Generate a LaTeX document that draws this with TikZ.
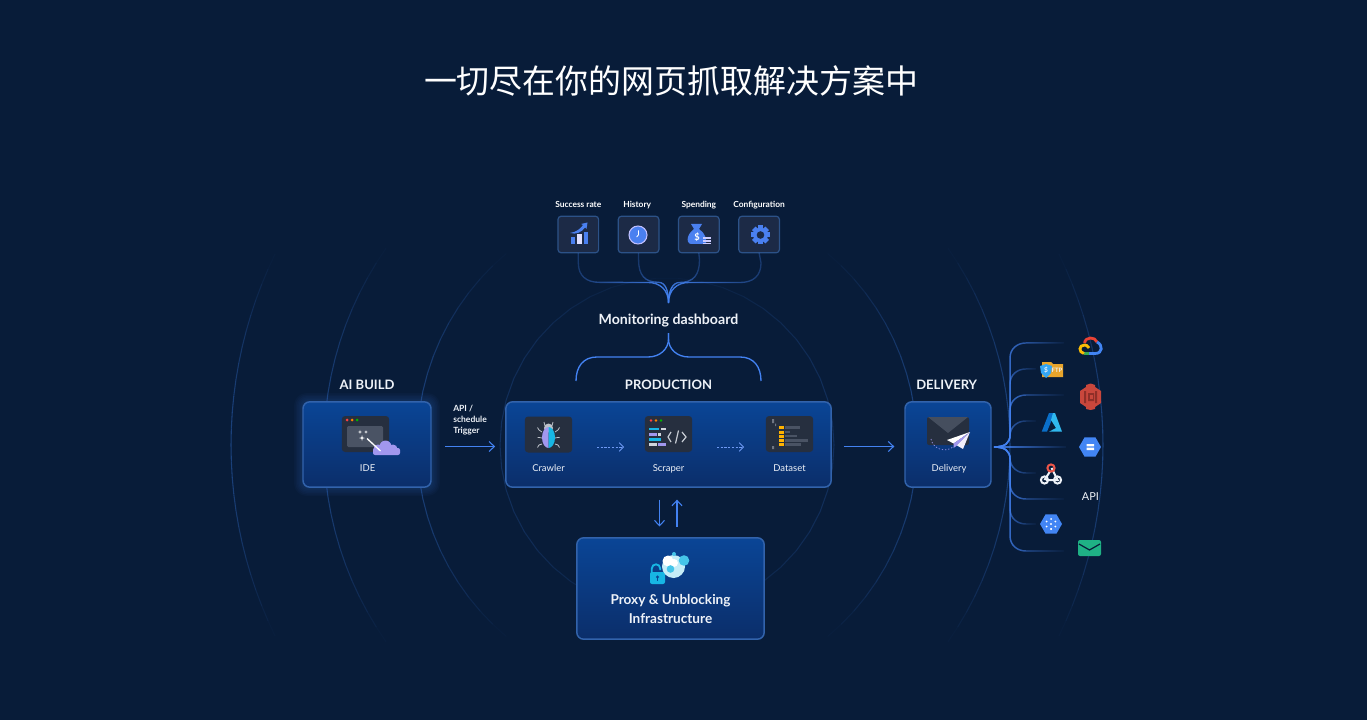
\documentclass[tikz,border=0pt]{standalone}
\usepackage{fontspec}
\setmainfont{Lato}
\newfontfamily\cjk{Noto Sans CJK SC}
\usepackage{xcolor}
\usetikzlibrary{positioning, arrows.meta, shapes.geometric, calc, fadings}

\definecolor{pagebg}{HTML}{081C39}
\definecolor{ringblue}{HTML}{235096}
\definecolor{panelhi}{HTML}{0A4596}
\definecolor{panello}{HTML}{0B2E6A}
\definecolor{panelrim}{HTML}{3263AC}
\definecolor{tilefill}{HTML}{1C2A46}
\definecolor{tilerim}{HTML}{2C5288}
\definecolor{iconfill}{HTML}{262F3F}
\definecolor{wireblue}{HTML}{4382F2}
\definecolor{softblue}{HTML}{4A80F0}
\definecolor{lavender}{HTML}{A197EE}
\definecolor{cyanicon}{HTML}{17B6E4}
\definecolor{greybar}{HTML}{4A5364}
\definecolor{paletext}{HTML}{EEF2F8}
\definecolor{gred}{HTML}{EA4335}
\definecolor{gblue}{HTML}{4285F4}
\definecolor{ggreen}{HTML}{34A853}
\definecolor{gyellow}{HTML}{FBBC05}
\definecolor{folder}{HTML}{E8A52C}
\definecolor{bucket}{HTML}{C9473C}
\definecolor{bucketdark}{HTML}{8F2F28}
\definecolor{azurea}{HTML}{0A6FC9}
\definecolor{azureb}{HTML}{30B8EE}
\definecolor{mailgreen}{HTML}{1FB185}

\tikzfading[name=fanfade, left color=transparent!0, middle color=transparent!35, right color=transparent!100]
\tikzfading[name=feedleft, left color=transparent!75, right color=transparent!0]
\tikzfading[name=feedright, left color=transparent!0, right color=transparent!75]

\begin{document}
\begin{tikzpicture}[
    x=0.75pt, y=-0.75pt,
    panel/.style={
        draw=panelrim,
        line width=1.1pt,
        rounded corners=5pt,
        top color=panelhi,
        bottom color=panello,
        outer sep=0pt,
        inner sep=0pt
    },
    tile/.style={
        draw=tilerim,
        line width=0.9pt,
        rounded corners=2.5pt,
        fill=tilefill,
        minimum width=30.5pt,
        minimum height=27.5pt,
        outer sep=0pt,
        inner sep=0pt
    },
    darktile/.style={
        fill=iconfill,
        rounded corners=2.5pt,
        minimum width=35.5pt,
        minimum height=27pt,
        outer sep=0pt,
        inner sep=0pt
    },
    hexicon/.style={
        regular polygon,
        regular polygon sides=6,
        fill=gblue,
        minimum size=16.5pt,
        inner sep=0pt
    },
    heading/.style={font=\fontsize{9.75}{12}\selectfont\bfseries, text=paletext, inner sep=0pt},
    caption/.style={font=\fontsize{7.1}{9}\selectfont, text=paletext, inner sep=0pt, text height=5.2pt, text depth=1.5pt},
    smallcap/.style={font=\fontsize{6.3}{8}\selectfont\bfseries, text=white, inner sep=0pt, text height=4.6pt, text depth=1.4pt},
    arrow/.style={-{Straight Barb[length=4pt,width=7.5pt]}, line width=0.8pt, draw=wireblue},
    dotarrow/.style={-{Straight Barb[length=3.2pt,width=6.5pt]}, line width=0.6pt, draw=softblue!80!white,
        dash pattern=on 1.6pt off 1.2pt},
    feedline/.style={line width=1pt, draw=wireblue, fading transform={scale=1.1}},
    fanline/.style={line width=1.1pt, draw=wireblue, path fading=fanfade, fading transform={scale=1.1}}
]
\useasboundingbox (0,0) rectangle (1367,720);
\fill[pagebg] (0,0) rectangle (1367,720);

% --- Rings ---
\foreach \rad/\amax/\peak in {167/94/0.38, 250/50/0.72, 343/35/0.72, 436/26/0.72}
  \foreach \side in {1,-1}
    \foreach \i in {-12,...,11} {
      \pgfmathsetmacro\angA{\amax*\i/12}
      \pgfmathsetmacro\angB{\amax*(\i+1)/12}
      \pgfmathsetmacro\fade{\peak*(1-abs((\i+0.5)/12)^1.6)}
      \draw[ringblue, line width=0.8pt, opacity=\fade]
        ({667+\side*\rad*cos(\angA)},{445+\rad*sin(\angA)}) -- ({667+\side*\rad*cos(\angB)},{445+\rad*sin(\angB)});
    }

% --- Title ---
\node[font=\cjk\fontsize{24.7}{28}\selectfont, text=white, inner sep=0pt] (title) at (671,81) {一切尽在你的网页抓取解决方案中};

% --- Monitoring tiles ---
\node[tile] (rate) at (578.3,234.5) {};
\node[tile, right=14.7pt of rate] (history) {};
\node[tile, right=14.7pt of history] (spend) {};
\node[tile, right=14.7pt of spend] (config) {};

\node[smallcap, above=5.2pt of rate] (ratelabel) {Success rate};
\node[smallcap, above=5.2pt of history, xshift=-1pt] (historylabel) {History};
\node[smallcap, above=5.2pt of spend] (spendlabel) {Spending};
\node[smallcap, above=5.2pt of config] (configlabel) {Configuration};

\node[font=\fontsize{10.6}{12}\selectfont\bfseries, text=paletext, inner sep=0pt] (monitor) at (668.5,320.5) {Monitoring dashboard};
\coordinate (feedtop) at (668.5,303);
\coordinate (feedlow) at (668.5,333);
\coordinate (prodleft) at (576,381);
\coordinate (prodright) at (761,381);

% --- Glow of the IDE panel ---
\foreach \g in {1.5,3,...,9}
  \fill[wireblue, opacity=0.035, rounded corners={4+0.6*\g}] ({303-\g},{402-\g}) rectangle ({431+\g},{487+\g});

% --- Panels ---
\node[panel, minimum width=96pt, minimum height=64pt] (ide) at (367,444.5) {};
\node[panel, minimum width=244pt, minimum height=64pt] (prod) at (668.5,444.5) {};
\node[panel, minimum width=64.5pt, minimum height=64pt] (delivery) at (948,444.5) {};
\node[panel, minimum width=140.5pt, minimum height=76pt] (proxy) at (670.5,588.5) {};

\node[heading, above=9pt of ide] (buildlabel) {AI BUILD};
\node[heading, above=9pt of prod] (prodlabel) {PRODUCTION};
\node[heading, above=9pt of delivery, xshift=-1pt] (deliverylabel) {DELIVERY};

\node[darktile] (idewin) at (365.5,434) {};
\node[darktile] (crawler) at (548.5,434.5) {};
\node[darktile] (scraper) at (668.5,434) {};
\node[darktile] (dataset) at (789.5,434) {};

\node[caption, below=9.3pt of idewin, xshift=1.6pt] (idelabel) {IDE};
\node[caption, below=9pt of crawler] (crawlerlabel) {Crawler};
\node[caption, below=9.3pt of scraper] (scraperlabel) {Scraper};
\node[caption, below=9.3pt of dataset] (datasetlabel) {Dataset};
\node[caption] (deliverycap) at (949,469) {Delivery};
\node[font=\fontsize{10.2}{14.4}\selectfont\bfseries, text=paletext, align=center, inner sep=0pt] (proxylabel) at (670.5,609) {Proxy \& Unblocking\\Infrastructure};
\node[font=\fontsize{6.4}{8.2}\selectfont\bfseries, text=paletext, align=left, anchor=west, inner sep=0pt] (apilabel) at (453,420) {API /\\schedule\\Trigger};

% --- Feeds into the dashboard ---
\draw[feedline, path fading=feedleft] (rate.south) -- ++(0,10) .. controls +(0,13) and +(-13,0) .. ++(21,19.5) -- (648,282.5) .. controls +(12,0) and +(0,-13) .. (feedtop);
\draw[feedline, path fading=feedleft] (history.south) -- ++(0,7) .. controls +(0,15) and +(-14,0) .. ++(20,22.5) .. controls +(7,0) and +(0,-12) .. (feedtop);
\draw[feedline, path fading=feedright] (feedtop) .. controls +(0,-12) and +(-7,0) .. (679.5,282.5) .. controls +(14,0) and +(0,15) .. (699.5,260) -- (spend.south);
\draw[feedline, path fading=feedright] (feedtop) .. controls +(0,-13) and +(-12,0) .. (689,282.5) -- (740,282.5) .. controls +(13,0) and +(0,13) .. (761,263) -- (config.south);

% --- Bracket over production ---
\draw[line width=1pt, wireblue] (feedlow) -- ++(0,6) .. controls +(0,10) and +(12,0) .. (648,357) -- (597,357) .. controls +(-14,0) and +(0,-14) .. (prodleft);
\draw[line width=1pt, wireblue] (feedlow) -- ++(0,6) .. controls +(0,10) and +(-12,0) .. (689,357) -- (740,357) .. controls +(14,0) and +(0,-14) .. (prodright);

% --- Arrows ---
\draw[arrow, shorten <=10.5pt, shorten >=8pt] ([yshift=-1.5pt]ide.east) -- ([yshift=-1.5pt]prod.west);
\draw[arrow, shorten <=9.5pt, shorten >=8pt] ([yshift=-1.5pt]prod.east) -- ([yshift=-1.5pt]delivery.west);
\coordinate (downtop) at (659.5,487);
\coordinate (uptop) at (677,487);
\draw[arrow, shorten <=9.5pt, shorten >=8.5pt] (downtop) -- (downtop |- proxy.north);
\draw[arrow, shorten <=8.5pt, shorten >=9.5pt] (uptop |- proxy.north) -- (uptop);
\coordinate (hopa) at (597,447);
\coordinate (hopb) at (624,447);
\coordinate (hopc) at (717,447);
\coordinate (hopd) at (744,447);
\draw[dotarrow] (hopa) -- (hopb);
\draw[dotarrow] (hopc) -- (hopd);

% --- Fan out of delivery ---
\coordinate (hub) at (994,447);
\foreach \n/\ye/\xe in {gcp/343/1064, sftp/369/1036, sthree/395/1064, azure/421/1036, web/473/1036, api/499/1064, kube/524/1036, mail/551/1064} {
  \pgfmathsetmacro\sgn{\ye<447?1:-1}
  \coordinate (fan\n) at (\xe,\ye);
  \draw[fanline] (hub) .. controls +(11,0) and +(0,\sgn*8) .. (1010,447-\sgn*12) -- (1010,\ye+\sgn*15)
    .. controls +(0,-\sgn*9) and +(-9,0) .. ++(16,-\sgn*15) -- (fan\n);
}
\coordinate (fangcs) at (1066,447);
\draw[fanline] (hub) -- (fangcs) (hub) +(0,-2) (hub) +(0,2);

% --- Icons in the tiles ---
\fill[softblue] (570.5,237) rectangle (575,244.5);
\fill[blue!12!white] (576.8,234.5) rectangle (581.8,244.5);
\fill[softblue] (583.6,232.5) rectangle (588,244.5);
\fill[softblue] (570,233) .. controls (577,232) and (581,228) .. (583,225) -- (581,224) -- (587.5,222.5) -- (586.5,229) -- (585,227.5) .. controls (582,232) and (576,235) .. cycle;

\fill[softblue] (638,235) circle (9);
\draw[blue!25!white, line width=0.8pt] (638,235) circle (9);
\draw[white, line width=0.6pt] (638.4,230.5) -- (638.4,235) -- (636.6,237);

\fill[softblue] (691,224) -- (702,224) -- (699,229) .. controls (705,233) and (707,239) .. (706,244) -- (691,244) .. controls (688,244) and (687,240) .. (688,237) .. controls (689,233) and (692,231) .. (694,229) -- cycle;
\node[font=\fontsize{7}{8}\selectfont\bfseries, text=white, inner sep=0pt] (dollar) at (697,237) {\$};
\foreach \y in {238,241,243.5}
  \draw[blue!20!white, line width=1.1pt] (703,\y) -- (711,\y);

\foreach \a in {0,45,...,315}
  \fill[softblue, rotate around={\a:(760.5,235)}] (758,225.5) rectangle (763,230);
\fill[softblue] (760.5,235) circle (7.3);
\fill[tilefill] (760.5,235) circle (3.8);

% --- IDE icon ---
\fill[greybar, rounded corners=1pt] (347,426) rectangle (383,447);
\fill[red!75!white] (347,420) circle (1.5);
\fill[orange] (352,420) circle (1.5);
\fill[green!70!black] (357,420) circle (1.5);
\foreach \sx/\sy/\ss in {360/432/2.2, 366/432/1.8, 362/438/3}
  \fill[white] (\sx-\ss,\sy) -- (\sx,\sy-0.25*\ss) -- (\sx+\ss,\sy) -- (\sx,\sy+0.25*\ss) -- cycle (\sx,\sy-\ss) -- (\sx+0.25*\ss,\sy) -- (\sx,\sy+\ss) -- (\sx-0.25*\ss,\sy) -- cycle;
\fill[lavender] (378,449) circle (4.5) (385.5,446.5) circle (6) (393,449) circle (4.5);
\fill[lavender, rounded corners=1.5pt] (373,448) rectangle (400,455);
\draw[white, line width=1pt] (367,438.5) -- (380.5,451);

% --- Crawler icon ---
\foreach \ly/\sgnb in {-5/-1, 1/0, 7/1} {
  \draw[paletext!75!iconfill, line width=0.6pt] (542,437+\ly) -- (539,{436.5+\ly+\sgnb*1.5}) -- (537.5,{436.5+\ly+\sgnb*4});
  \draw[paletext!75!iconfill, line width=0.6pt] (555,437+\ly) -- (558,{436.5+\ly+\sgnb*1.5}) -- (559.5,{436.5+\ly+\sgnb*4});
}
\draw[paletext!75!iconfill, line width=0.6pt] (545,426) -- (544,422) (552,426) -- (553,422);
\fill[paletext!75!iconfill] (548.5,428) circle (4.5);
\fill[lavender] (548.5,427) arc (270:90:6.5 and 10.5) -- cycle;
\fill[cyanicon] (548.5,427) arc (-90:90:6.5 and 10.5) -- cycle;

% --- Scraper icon ---
\fill[red!75!white] (651,420.5) circle (1.4);
\fill[orange] (656,420.5) circle (1.4);
\fill[green!70!black] (661,420.5) circle (1.4);
\foreach \bx/\by/\bw/\bc in {649/429/10/cyanicon, 661/429/5/paletext!85!iconfill, 649/434.5/7.5/lavender, 658/434.5/3/paletext!85!iconfill, 649/439.5/12/cyanicon, 649/444.5/7.5/paletext!85!iconfill, 658/444.5/8/lavender}
  \fill[\bc] (\bx,\by-1.4) rectangle (\bx+\bw,\by+1.4);
\draw[paletext!80!iconfill, line width=0.9pt] (671,432) -- (668,437) -- (671,442) (682,432) -- (686,437) -- (682,442) (678.5,430.5) -- (675.5,443.5);

% --- Dataset icon ---
\fill[greybar!80!white] (772,419) rectangle (774,423) (775,423.5) rectangle (776,426) (772,446) rectangle (774,449);
\foreach \by/\bw in {427.5/15, 432/5, 436/12, 440.5/23, 444.5/16} {
  \fill[orange!60!yellow] (779,\by-1.5) rectangle (783.5,\by+1.5);
  \fill[greybar] (785,\by-1.3) rectangle (785+\bw,\by+1.3);
}

% --- Delivery icon ---
\fill[iconfill, rounded corners=1.5pt] (927,417) rectangle (969,445);
\fill[greybar!85!iconfill] (928,417) -- (968,417) -- (948,433) -- cycle;
\draw[lavender, line width=0.5pt, dash pattern=on 1pt off 1.4pt] (931,439) .. controls (933,449) and (945,453) .. (953,447);
\fill[white] (970,432) -- (947,440) -- (953.5,443.5) -- cycle;
\fill[lavender] (970,432) -- (953.5,443.5) -- (953.5,448) -- (957,445.5) -- cycle;
\fill[white!85!lavender] (970,432) -- (957,445.5) -- (963,449) -- cycle;

% --- Proxy icon ---
\draw[cyanicon, line width=1.4pt] (651.8,573) -- (651.8,568.5) arc (180:360:4.2) -- (660.2,570);
\fill[cyanicon, rounded corners=1.5pt] (650,572) rectangle (665,584);
\fill[panelhi] (657.5,577) circle (1.7);
\fill[panelhi] (656.8,577) rectangle (658.2,581);
\fill[cyanicon!25!white] (673.5,566.5) circle (11.5);
\fill[white] (668,561) circle (5.5) (674,563) circle (4);
\fill[cyanicon!80!white] (684,560.5) circle (5.3) (670.5,569) circle (3.8) (674,554) circle (2);

% --- Delivery targets ---
\draw[gred, line width=2.1pt] (1084.5,343) .. controls (1085.5,336.5) and (1095,336.5) .. (1097,342);
\draw[gblue, line width=2.1pt] (1097,342) .. controls (1103,345) and (1103,353.5) .. (1095,353.5) -- (1089,353.5);
\draw[ggreen, line width=2.1pt] (1089,353.5) -- (1084,353.5);
\draw[gyellow, line width=2.1pt] (1084,353.5) .. controls (1078.5,352.5) and (1078.5,345) .. (1084.5,345) .. controls (1086,345) and (1087.5,345.5) .. (1089,348);

\fill[folder] (1042,362) -- (1051,362) -- (1053,364) -- (1063,364) -- (1063,377) -- (1042,377) -- cycle;
\fill[softblue!70!cyan] (1040,366) -- (1046,364) -- (1052,366) -- (1051,373) -- (1046,378) -- (1041,373) -- cycle;
\node[font=\fontsize{4.5}{5}\selectfont\bfseries, text=paletext, inner sep=0pt] (ftplabel) at (1057,370.5) {FTP};
\node[font=\fontsize{5}{5}\selectfont\bfseries, text=paletext, inner sep=0pt] (ftpdollar) at (1046,370) {\$};

\fill[bucket] (1086,385) -- (1090.5,383.5) -- (1095,385) -- (1095,409) -- (1090.5,410) -- (1086,409) -- cycle;
\fill[bucket] (1080,391) -- (1086,387) -- (1095,387) -- (1101,391) -- (1101,403) -- (1095,407) -- (1086,407) -- (1080,403) -- cycle;
\fill[bucketdark] (1084,391) -- (1086,391) -- (1086,403) -- (1084,403) -- cycle (1095,391) -- (1097,391) -- (1097,403) -- (1095,403) -- cycle (1088,393) rectangle (1094,401);
\fill[bucket] (1089.5,395) rectangle (1092.5,399);

\fill[azurea] (1041.7,431.7) -- (1049,413) -- (1054.5,413) -- (1047,431.7) -- cycle;
\fill[azureb] (1053,413) -- (1055,413) -- (1062,431.7) -- (1049,431.7) -- (1056,428) -- (1051,420) -- cycle;

\node[hexicon] (gcs) at (1090,447) {};
\fill[white] (1086.5,444) rectangle (1094,446.3) (1086.5,447.7) rectangle (1094,450);

\draw[paletext, line width=1.5pt] (1044.5,480) circle (3.6) (1057.5,480) circle (3.6);
\draw[paletext, line width=1.5pt] (1044.5,480) -- (1050,471.5) (1051.5,468) -- (1057.5,480) -- (1046,480);
\draw[gred!85!pink, line width=1.5pt] (1051,468) circle (3.6);

\node[font=\fontsize{8.2}{10}\selectfont, text=paletext, inner sep=0pt] (apitarget) at (1090.5,497) {API};

\node[hexicon] (kube) at (1051,524) {};
\foreach \a in {90,150,...,450}
  \fill[white] (1051,524) ++(\a:5) circle (1);
\fill[white] (1051,524) circle (1.2);

\fill[mailgreen, rounded corners=1.5pt] (1078,540) rectangle (1101,556);
\draw[pagebg, line width=0.9pt] (1079,544) -- (1089.5,550) -- (1100,544);

\end{tikzpicture}
\end{document}
